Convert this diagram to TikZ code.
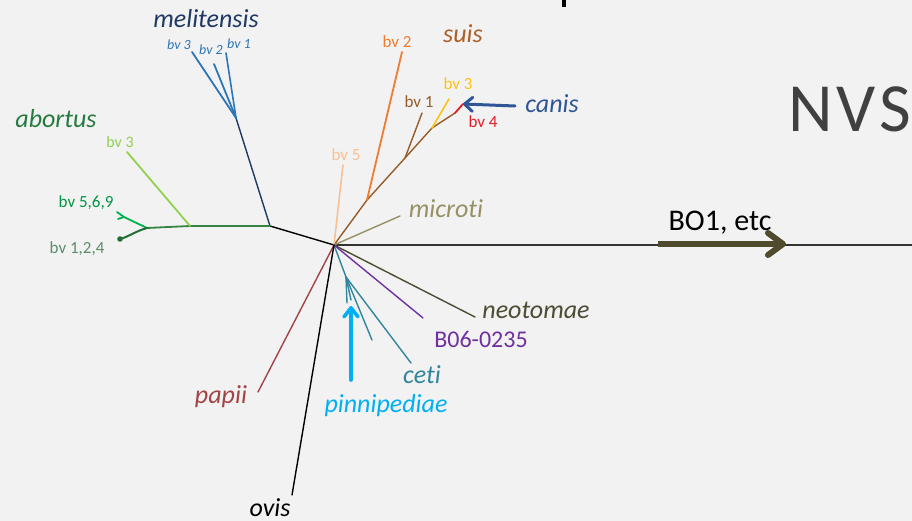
\documentclass[tikz,border=0pt]{standalone}
\usepackage{fontspec}
\setmainfont{Carlito}[Ligatures=NoCommon]
\usetikzlibrary{arrows.meta}

% palette
\definecolor{bg}{RGB}{242,242,242}
\definecolor{navy}{RGB}{31,56,100}
\definecolor{melblue}{RGB}{46,117,182}
\definecolor{abgreen}{RGB}{38,122,64}
\definecolor{abline}{RGB}{52,132,66}
\definecolor{lgreen}{RGB}{146,208,80}
\definecolor{mgreen}{RGB}{0,176,80}
\definecolor{dgreen}{RGB}{34,110,52}
\definecolor{grgreen}{RGB}{92,140,108}
\definecolor{suisbrown}{RGB}{172,96,38}
\definecolor{brline}{RGB}{150,92,42}
\definecolor{orng}{RGB}{237,125,49}
\definecolor{yel}{RGB}{250,196,20}
\definecolor{redd}{RGB}{226,30,40}
\definecolor{canisblue}{RGB}{47,85,151}
\definecolor{peach}{RGB}{248,192,148}
\definecolor{olive}{RGB}{150,145,100}
\definecolor{dolive}{RGB}{78,76,50}
\definecolor{purp}{RGB}{112,48,160}
\definecolor{teal}{RGB}{49,133,156}
\definecolor{sky}{RGB}{0,176,240}
\definecolor{papred}{RGB}{162,68,70}
\definecolor{boarrow}{RGB}{80,75,45}
\definecolor{nvsgray}{RGB}{64,64,64}

\tikzset{
  br/.style={line width=1.4pt, line cap=round},
  bigital/.style={font=\fontsize{26}{30}\selectfont\itshape, anchor=base, inner sep=0pt},
  bvlabel/.style={font=\fontsize{17}{20}\selectfont, anchor=base, inner sep=0pt},
  bvsmall/.style={font=\fontsize{16}{19}\selectfont, anchor=base, inner sep=0pt},
  bvital/.style={font=\fontsize{14}{16}\selectfont\itshape, anchor=base, inner sep=0pt},
}

\begin{document}
\begin{tikzpicture}[x=1pt,y=-1pt]
  \fill[bg] (0,0) rectangle (912,521);
  \useasboundingbox (0,0) rectangle (912,521);
  \clip (0,0) rectangle (912,521);

  % fragment of a heading above the frame
  \fill[black] (562,0) rectangle (566,7);

  % tree points
  \coordinate (hub) at (334,245);
  \coordinate (mj) at (270,226);
  \coordinate (mel) at (236,118);
  \coordinate (m3) at (192,52);
  \coordinate (m2) at (214,64);
  \coordinate (m1) at (226,53);
  \coordinate (ab3j) at (190,226);
  \coordinate (ab3) at (127,152);
  \coordinate (abn) at (147,228);
  \coordinate (a569) at (124,217);
  \coordinate (a569a) at (117,212);
  \coordinate (a569b) at (118,219);
  \coordinate (a124) at (120,239);
  \coordinate (s0) at (367,200);
  \coordinate (s1) at (405,158);
  \coordinate (s3) at (432,128);
  \coordinate (cn) at (455,113);
  \coordinate (cntip) at (463,104);
  \coordinate (sbv2) at (402,52);
  \coordinate (sbv1) at (422,113);
  \coordinate (sbv3) at (449,99);
  \coordinate (bv5) at (343,165);
  \coordinate (mic) at (400,216);
  \coordinate (neo) at (475,317);
  \coordinate (bzero) at (423,318);
  \coordinate (cj) at (346,277);
  \coordinate (ce1) at (372,340);
  \coordinate (ce2) at (411,363);
  \coordinate (pn1) at (347,303);
  \coordinate (pn2) at (351,300);
  \coordinate (pap) at (258,392);
  \coordinate (ov) at (292,495);
  \coordinate (east) at (912,245);

  % long branch to the right
  \draw[br, line width=1.3pt, black!80] (hub) -- (east);

  % melitensis
  \draw[br, black] (hub) -- (mj);
  \draw[br, navy] (mj) -- (mel);
  \draw[br, melblue, line width=1.8pt] (mel) -- (m3);
  \draw[br, melblue, line width=1.8pt] (mel) -- (m2);
  \draw[br, melblue, line width=1.6pt] (mel) -- (m1);

  % abortus
  \draw[br, abline, line width=1.8pt] (mj) -- (ab3j) -- (abn);
  \draw[br, lgreen, line width=1.8pt] (ab3j) -- (ab3);
  \draw[br, mgreen, line width=1.8pt] (abn) -- (a569) -- (a569a);
  \draw[br, mgreen, line width=1.8pt] (a569) -- (a569b);
  \draw[br, dgreen, line width=2pt] (abn) .. controls (136,231) and (128,237) .. (a124);
  \fill[dgreen] (a124) circle (2.8);

  % suis and canis
  \draw[br, brline] (hub) -- (s0) -- (s1) -- (s3) -- (cn);
  \draw[br, orng, line width=1.8pt] (s0) -- (sbv2);
  \draw[br, brline] (s1) -- (sbv1);
  \draw[br, yel, line width=1.6pt] (s3) -- (sbv3);
  \draw[br, redd, line width=1.8pt] (cn) -- (cntip);
  \draw[br, peach, line width=1.6pt] (hub) -- (bv5);

  % microti, neotomae, B06-0235
  \draw[br, olive] (hub) -- (mic);
  \draw[br, dolive] (hub) -- (neo);
  \draw[br, purp] (hub) -- (bzero);

  % ceti and pinnipediae
  \draw[br, teal] (hub) -- (cj);
  \draw[br, teal] (cj) -- (ce1);
  \draw[br, teal] (cj) -- (ce2);
  \draw[br, teal] (cj) -- (pn1);
  \draw[br, teal] (cj) -- (pn2);

  % papii and ovis
  \draw[br, papred] (hub) -- (pap);
  \draw[br, black] (hub) -- (ov);

  % labels
  \node[bigital, navy] (lmel) at (206,28) {melitensis};
  \node[bvital, melblue] (lm3) at (179,50) {bv 3};
  \node[bvital, melblue] (lm2) at (211,55) {bv 2};
  \node[bvital, melblue] (lm1) at (239,49) {bv 1};

  \node[bigital, abgreen] (lab) at (56,128) {abortus};
  \node[bvsmall, lgreen] (lab3) at (120,148) {bv 3};
  \node[bvlabel, mgreen!85!black] (lab569) at (86,208) {bv 5,6,9};
  \node[bvlabel, grgreen] (lab124) at (77,254) {bv 1,2,4};

  \node[bigital, suisbrown] (lsuis) at (463,43) {suis};
  \node[bvlabel, orng] (ls2) at (397,48) {bv 2};
  \node[bvlabel, yel] (ls3) at (458,90) {bv 3};
  \node[bvlabel, brline] (ls1) at (419,108) {bv 1};
  \node[bvlabel, redd] (ls4) at (483,128) {bv 4};
  \node[bvlabel, peach] (ls5) at (346,161) {bv 5};
  \node[bigital, canisblue] (lcanis) at (552,113) {canis};

  \node[bigital, olive] (lmic) at (446,218) {microti};
  \node[bigital, dolive] (lneo) at (536,318) {neotomae};
  \node[font=\fontsize{24}{28}\selectfont, anchor=base, inner sep=0pt, purp] (lb06) at (481,347) {B06-0235};
  \node[bigital, teal] (lceti) at (422,383) {ceti};
  \node[bigital, sky] (lpin) at (386,412) {pinnipediae};
  \node[bigital, papred] (lpap) at (221,403) {papii};
  \node[bigital, black] (lovis) at (270,516) {ovis};

  \node[font=\fontsize{30}{34}\selectfont, anchor=base, inner sep=0pt, black] (lbo) at (720,231) {BO1, etc};
  \node[font=\fontsize{69}{78}\selectfont, anchor=base west, inner sep=0pt, nvsgray] (lnvs) at (788,132) {N\hspace{4pt}V\hspace{4pt}S};

  % pointer arrows
  \coordinate (cntail) at (515,106);
  \coordinate (pntail) at (351,380);
  \coordinate (pnhead) at (351,306);
  \coordinate (botail) at (658,244);
  \coordinate (bohead) at (786,244);
  \draw[canisblue, line width=3pt, line cap=round,
        -{Straight Barb[length=8pt,width=14pt,round]}] (cntail) -- (cntip);
  \draw[sky, line width=3.6pt, line cap=round,
        -{Straight Barb[length=9pt,width=14pt,round]}] (pntail) -- (pnhead);
  \draw[boarrow, line width=6pt,
        -{Straight Barb[length=15pt,width=22pt,round]}] (botail) -- (bohead);
\end{tikzpicture}
\end{document}
